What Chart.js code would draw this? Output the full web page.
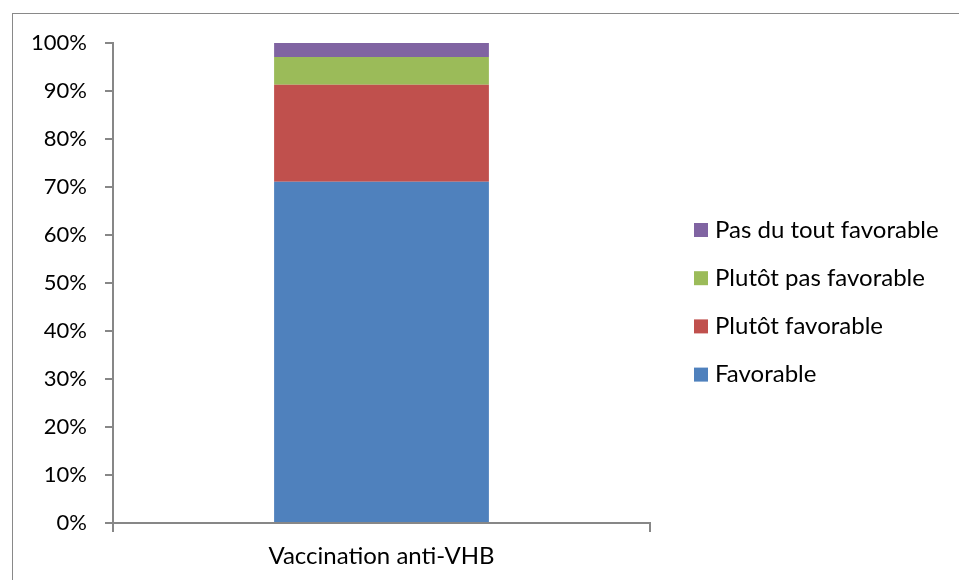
<!DOCTYPE html>
<html><head><meta charset="utf-8">
<script src="https://cdn.jsdelivr.net/npm/chart.js@4/dist/chart.umd.min.js"></script>
<style>
html,body{margin:0;padding:0;background:#fff;}
#wrap{position:absolute;left:0;top:0;width:959px;height:580px;}
#frame{position:absolute;left:12px;top:13px;width:960px;height:600px;border:1px solid #898989;box-sizing:border-box;}
</style></head><body>
<div id="wrap"><div id="frame"></div><canvas id="c" width="959" height="580"></canvas></div>
<script>
const categories = ["Vaccination anti-VHB"];
const seriesNames = ["Favorable", "Plutôt favorable", "Plutôt pas favorable", "Pas du tout favorable"];
const favorable = [71.1];
const plutotFavorable = [20.2];
const plutotPasFavorable = [5.8];
const pasDuToutFavorable = [2.9];
const seriesColors = ["#4F81BD", "#C0504D", "#9BBB59", "#8064A2"];
const yTicks = ["0%","10%","20%","30%","40%","50%","60%","70%","80%","90%","100%"];

const FONT = "Lato, 'Liberation Sans', sans-serif";
const values = [favorable, plutotFavorable, plutotPasFavorable, pasDuToutFavorable];

const legendPlugin = {
  id: 'sideLegend',
  afterDraw(chart) {
    const ctx = chart.ctx;
    ctx.save();
    ctx.font = "24px " + FONT;
    ctx.textBaseline = "middle";
    ctx.textAlign = "left";
    const n = chart.data.datasets.length;
    for (let i = n - 1; i >= 0; i--) {
      const ds = chart.data.datasets[i];
      const row = n - 1 - i;
      const cy = 230 + row * 48.2;
      ctx.fillStyle = ds.backgroundColor;
      ctx.fillRect(694, cy - 7, 14, 14);
      ctx.fillStyle = "#000";
      ctx.fillText(ds.label, 715, cy);
    }
    ctx.restore();
  }
};

new Chart(document.getElementById('c'), {
  type: 'bar',
  data: {
    labels: categories,
    datasets: seriesNames.map((name, i) => ({
      label: name,
      data: values[i],
      backgroundColor: seriesColors[i],
      borderWidth: 0,
      barPercentage: 0.4,
      categoryPercentage: 1.0
    }))
  },
  options: {
    responsive: false,
    animation: false,
    layout: { padding: { left: 0, top: 43, right: 309, bottom: 0 } },
    plugins: { legend: { display: false }, tooltip: { enabled: false } },
    scales: {
      x: {
        stacked: true,
        grid: { display: true, drawOnChartArea: false, drawTicks: true, tickLength: 9, color: "#878787", lineWidth: 2, offset: true },
        border: { display: true, color: "#878787", width: 2 },
        ticks: { color: "#000", font: { family: FONT, size: 24 }, padding: 10 },
        afterFit(s) { s.height = 57; }
      },
      y: {
        stacked: true,
        min: 0, max: 100,
        grid: { display: true, drawOnChartArea: false, drawTicks: true, tickLength: 8, color: "#878787", lineWidth: 2 },
        border: { display: true, color: "#878787", width: 2 },
        ticks: { stepSize: 10, color: "#000", font: { family: FONT, size: 22 }, padding: 18,
          callback: (v, i) => yTicks[i] },
        afterFit(s) { s.width = 113; }
      }
    }
  },
  plugins: [legendPlugin]
});
</script>
</body></html>
